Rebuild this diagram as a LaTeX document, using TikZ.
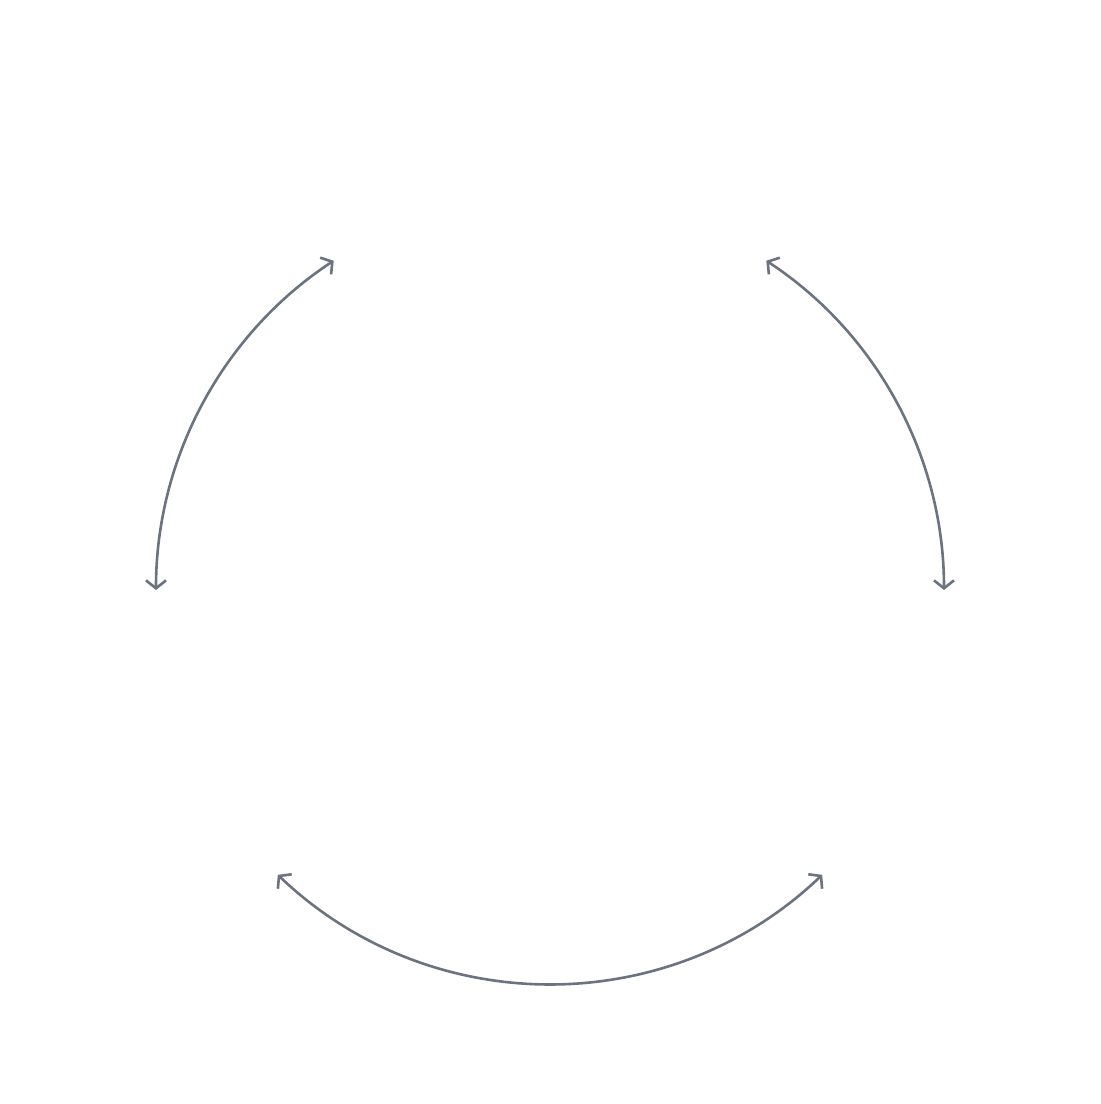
\documentclass[tikz,border=0pt]{standalone}
\usepackage{tikz}
\usetikzlibrary{calc,arrows.meta}
\definecolor{slate}{HTML}{6B7280}
\def\ringarc[#1](#2)(#3:#4:#5){\draw[#1] ($(#2)+({#5*cos(#3)},{#5*sin(#3)})$) arc (#3:#4:#5);}

\begin{document}
\begin{tikzpicture}[x=1pt, y=1pt]
	%%%%% START %%%%%
	\useasboundingbox[fill=white] (0, 0) rectangle (1101, -1104);
	
	\coordinate (hub) at (550, -590);
	
	\tikzset{cyclearc/.style={line width=2.6pt, color=slate, {Straight Barb[length=8pt, width=20pt]}-{Straight Barb[length=8pt, width=20pt]}}}
	
	\ringarc[cyclearc](hub)(180:123.3:394);
	\ringarc[cyclearc](hub)(56.7:0:394);
	\ringarc[cyclearc](hub)(226.3:313.7:394);
	
	%%%%% END %%%%%
\end{tikzpicture}
\end{document}
